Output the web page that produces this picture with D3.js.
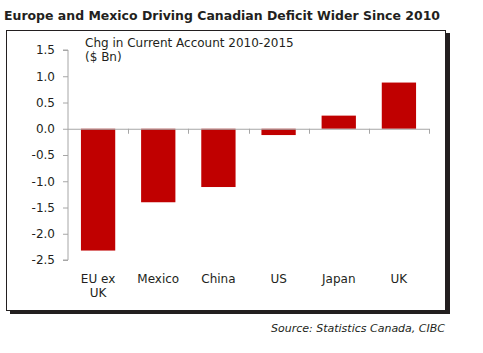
<!DOCTYPE html>
<html>
<head>
<meta charset="utf-8">
<script src="https://cdn.jsdelivr.net/npm/d3@7"></script>
<style>
  body { margin: 0; background: #fff; }
  text { font-family: "DejaVu Sans", Verdana, sans-serif; fill: #231f20; }
</style>
</head>
<body>
<div id="chart"></div>
<script>
// Données
const categories = ["EU ex\nUK", "Mexico", "China", "US", "Japan", "UK"];
const values = [-2.32, -1.40, -1.11, -0.12, 0.25, 0.88];
const yTicks = [1.5, 1.0, 0.5, 0.0, -0.5, -1.0, -1.5, -2.0, -2.5];

const W = 483, H = 353;

const svg = d3.select("#chart")
    .append("svg")
    .attr("width", W)
    .attr("height", H);

// Titre
svg.append("text")
    .attr("x", 4)
    .attr("y", 20)
    .attr("textLength", 436)
    .attr("lengthAdjust", "spacingAndGlyphs")
    .style("font-size", "13px")
    .style("font-weight", "bold")
    .text("Europe and Mexico Driving Canadian Deficit Wider Since 2010");

// Cadre avec ombre
svg.append("rect")
    .attr("x", 10).attr("y", 33)
    .attr("width", 440).attr("height", 281)
    .attr("fill", "#231f20");
svg.append("rect")
    .attr("x", 6.5).attr("y", 30.5)
    .attr("width", 439).attr("height", 280)
    .attr("fill", "#fff")
    .attr("stroke", "#231f20")
    .attr("stroke-width", 1);

// Echelles
const x = d3.scaleBand()
    .domain(categories)
    .range([68, 429])
    .paddingInner(0.43)
    .paddingOuter(0.215);

const y = d3.scaleLinear()
    .domain([-2.5, 1.5])
    .range([260, 50]);

// Barres
svg.selectAll(".bar")
    .data(values)
    .enter()
    .append("rect")
    .attr("class", "bar")
    .attr("x", (d, i) => x(categories[i]))
    .attr("y", d => y(Math.max(0, d)))
    .attr("width", x.bandwidth())
    .attr("height", d => Math.abs(y(d) - y(0)))
    .attr("fill", "#c00000");

// Axe Y
const yAxis = svg.append("g")
    .attr("transform", "translate(68,0)")
    .call(d3.axisLeft(y).tickValues(yTicks).tickFormat(d3.format(".1f")).tickSize(5).tickPadding(8));
yAxis.selectAll("path, line").attr("stroke", "#a6a6a6");
yAxis.select(".domain").attr("d", `M-5,${y(1.5)}H0V${y(-2.5)}H-5`);
yAxis.selectAll("text")
    .style("font-size", "12px")
    .text(d => d3.format(".1f")(d).replace("−", "-"));

// Axe X (ligne zéro)
const step = x.step();
const bounds = categories.map((c, i) => 68 + step * (i + 1));
svg.append("line")
    .attr("x1", 68).attr("x2", 429)
    .attr("y1", y(0) + 0.5).attr("y2", y(0) + 0.5)
    .attr("stroke", "#a6a6a6");
svg.selectAll(".xtick")
    .data(bounds)
    .enter()
    .append("line")
    .attr("x1", d => Math.round(d) + 0.5).attr("x2", d => Math.round(d) + 0.5)
    .attr("y1", y(0)).attr("y2", y(0) + 5)
    .attr("stroke", "#a6a6a6");

// Etiquettes des catégories
svg.selectAll(".xlabel")
    .data(categories)
    .enter()
    .append("text")
    .attr("text-anchor", "middle")
    .style("font-size", "12px")
    .each(function (d) {
        const t = d3.select(this);
        d.split("\n").forEach((line, k) => {
            t.append("tspan")
                .attr("x", x(d) + x.bandwidth() / 2)
                .attr("y", 283 + k * 14)
                .text(line);
        });
    });

// Sous-titre
svg.append("text")
    .attr("x", 85).attr("y", 47)
    .style("font-size", "12px")
    .text("Chg in Current Account 2010-2015");
svg.append("text")
    .attr("x", 85).attr("y", 61)
    .style("font-size", "12px")
    .text("($ Bn)");

// Source
svg.append("text")
    .attr("x", 445).attr("y", 332)
    .attr("text-anchor", "end")
    .style("font-size", "11px")
    .style("font-style", "italic")
    .text("Source: Statistics Canada, CIBC");
</script>
</body>
</html>
